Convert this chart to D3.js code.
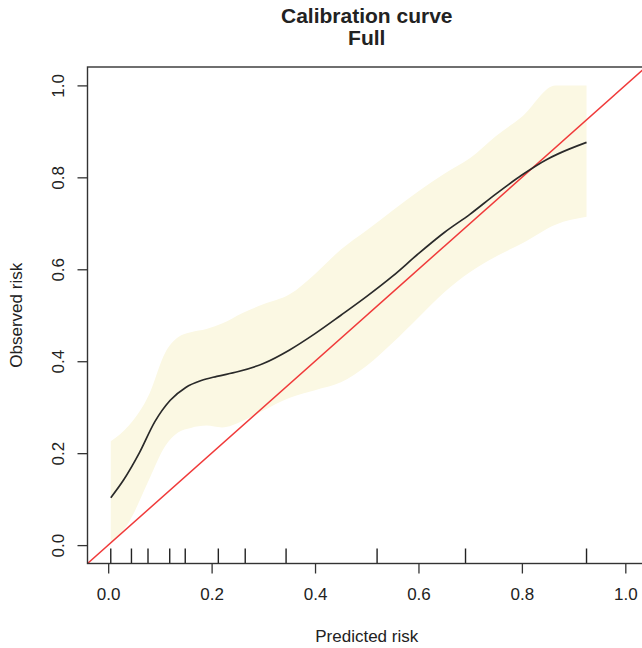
<!DOCTYPE html>
<html>
<head>
  <meta charset="utf-8">
  <title>Calibration curve</title>
  <style>
    body { margin: 0; background: #fff; }
    svg text { font-family: "Liberation Sans", Arial, sans-serif; fill: #222; }
    .axis path, .axis line { stroke: #333; stroke-width: 1.3px; }
  </style>
</head>
<body>
  <svg id="chart" width="642" height="648"></svg>

  <script src="https://d3js.org/d3.v7.min.js"></script>
  <script>
    // smoothed calibration curve (predicted vs observed)
    const curveX = [0.005, 0.03, 0.06, 0.09, 0.12, 0.15, 0.18, 0.21, 0.25, 0.30, 0.35, 0.40,
                    0.45, 0.50, 0.55, 0.60, 0.65, 0.70, 0.75, 0.80, 0.85, 0.87, 0.925];
    const curveY = [0.103, 0.142, 0.20, 0.268, 0.315, 0.343, 0.358, 0.367, 0.377, 0.395, 0.424, 0.46,
                    0.50, 0.541, 0.585, 0.634, 0.68, 0.72, 0.764, 0.805, 0.840, 0.851, 0.876];

    // confidence band
    const bandX = [0.005, 0.04, 0.08, 0.11, 0.135, 0.16, 0.19, 0.22, 0.26, 0.30, 0.35, 0.40,
                   0.45, 0.50, 0.55, 0.60, 0.65, 0.70, 0.75, 0.80, 0.865, 0.925];
    const bandLower = [0.005, 0.05, 0.145, 0.215, 0.245, 0.255, 0.26, 0.256, 0.27, 0.293, 0.32, 0.337,
                       0.354, 0.39, 0.44, 0.495, 0.55, 0.594, 0.628, 0.656, 0.697, 0.714];
    const bandUpper = [0.226, 0.26, 0.33, 0.418, 0.452, 0.463, 0.47, 0.482, 0.505, 0.524, 0.545, 0.59,
                       0.643, 0.685, 0.728, 0.77, 0.808, 0.842, 0.89, 0.932, 1.0, 1.0];

    // rug of predicted risk
    const rugX = [0.005, 0.045, 0.077, 0.119, 0.149, 0.213, 0.265, 0.344, 0.520, 0.691, 0.925];

    const tickValues = [0, 0.2, 0.4, 0.6, 0.8, 1.0];
    const titleLines = ["Calibration curve", "Full"];

    const svg = d3.select('#chart');
    const plotLeft = 87.5, plotRight = 646, plotTop = 67, plotBottom = 563.5;

    const x = d3.scaleLinear().domain([-0.04, 1.04]).range([plotLeft, plotRight]);
    const y = d3.scaleLinear().domain([-0.04, 1.04]).range([plotBottom, plotTop]);

    svg.append('clipPath').attr('id', 'plot-clip')
      .append('rect')
      .attr('x', plotLeft).attr('y', plotTop)
      .attr('width', plotRight - plotLeft).attr('height', plotBottom - plotTop);

    const plot = svg.append('g').attr('clip-path', 'url(#plot-clip)');

    const bandData = bandX.map((d, i) => ({ x: d, lo: bandLower[i], hi: bandUpper[i] }));
    plot.append('path')
      .datum(bandData)
      .attr('fill', '#fbf8e3')
      .attr('d', d3.area()
        .x(d => x(d.x))
        .y0(d => y(d.lo))
        .y1(d => y(d.hi))
        .curve(d3.curveMonotoneX));

    // ideal line y = x
    plot.append('line')
      .attr('x1', x(-0.04)).attr('y1', y(-0.04))
      .attr('x2', x(1.04)).attr('y2', y(1.04))
      .attr('stroke', '#f03a3a')
      .attr('stroke-width', 1.5);

    plot.append('path')
      .datum(curveX.map((d, i) => [d, curveY[i]]))
      .attr('fill', 'none')
      .attr('stroke', '#2a2a2a')
      .attr('stroke-width', 1.7)
      .attr('d', d3.line()
        .x(d => x(d[0]))
        .y(d => y(d[1]))
        .curve(d3.curveMonotoneX));

    // rug ticks along the bottom
    plot.selectAll('.rug')
      .data(rugX)
      .enter().append('line')
      .attr('class', 'rug')
      .attr('x1', d => x(d)).attr('x2', d => x(d))
      .attr('y1', plotBottom).attr('y2', plotBottom - 15)
      .attr('stroke', '#222')
      .attr('stroke-width', 1.4);

    // box
    svg.append('rect')
      .attr('x', plotLeft).attr('y', plotTop)
      .attr('width', plotRight - plotLeft).attr('height', plotBottom - plotTop)
      .attr('fill', 'none')
      .attr('stroke', '#333')
      .attr('stroke-width', 1.4);

    const xAxis = svg.append('g')
      .attr('class', 'axis')
      .attr('transform', `translate(0,${plotBottom})`)
      .call(d3.axisBottom(x).tickValues(tickValues).tickFormat(d3.format('.1f'))
        .tickSize(10).tickPadding(14).tickSizeOuter(0));
    xAxis.select('.domain').remove();
    xAxis.selectAll('text').attr('font-size', 17).attr('fill', '#222')
      .attr('font-family', '"Liberation Sans", Arial, sans-serif');

    const yAxis = svg.append('g')
      .attr('class', 'axis')
      .attr('transform', `translate(${plotLeft},0)`)
      .call(d3.axisLeft(y).tickValues(tickValues).tickFormat(d3.format('.1f'))
        .tickSize(10).tickSizeOuter(0));
    yAxis.select('.domain').remove();
    yAxis.selectAll('text')
      .attr('font-size', 17).attr('fill', '#222')
      .attr('font-family', '"Liberation Sans", Arial, sans-serif')
      .attr('text-anchor', 'middle')
      .attr('x', 0).attr('y', -24).attr('dy', null)
      .attr('transform', 'rotate(-90)');

    svg.append('text')
      .attr('x', (plotLeft + plotRight) / 2).attr('y', 642)
      .attr('text-anchor', 'middle')
      .attr('font-size', 17)
      .text('Predicted risk');

    svg.append('text')
      .attr('transform', `translate(22,${(plotTop + plotBottom) / 2}) rotate(-90)`)
      .attr('text-anchor', 'middle')
      .attr('font-size', 17)
      .text('Observed risk');

    svg.selectAll('.title')
      .data(titleLines)
      .enter().append('text')
      .attr('class', 'title')
      .attr('x', (plotLeft + plotRight) / 2)
      .attr('y', (d, i) => 23 + i * 22)
      .attr('text-anchor', 'middle')
      .attr('font-size', 21)
      .attr('font-weight', 'bold')
      .text(d => d);
  </script>
</body>
</html>
